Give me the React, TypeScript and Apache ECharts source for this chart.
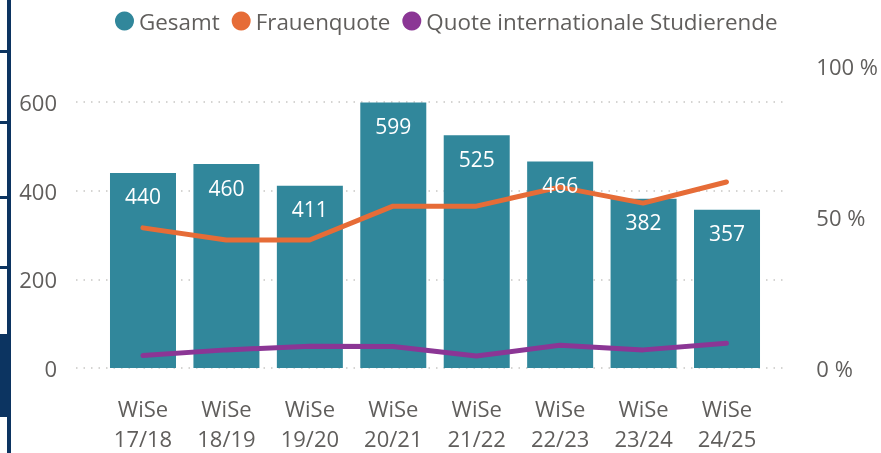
import React, { useEffect, useRef } from "react";
import * as echarts from "echarts";

const categories = ["WiSe 17/18", "WiSe 18/19", "WiSe 19/20", "WiSe 20/21", "WiSe 21/22", "WiSe 22/23", "WiSe 23/24", "WiSe 24/25"];
const gesamt = [440, 460, 411, 599, 525, 466, 382, 357];
const frauenquote = [46.4, 42.4, 42.4, 53.6, 53.6, 59.9, 54.6, 61.6];
const quoteInternational = [4.1, 6.0, 7.2, 7.1, 4.0, 7.5, 6.0, 8.2];
const leftTicks = [0, 200, 400, 600];
const rightTicks = [0, 50, 100];

const FONT = "'Open Sans', 'Noto Sans', sans-serif";
const GRAY = "#605E5C";
const TEAL = "#31879B";
const ORANGE = "#E66C37";
const PURPLE = "#8B3695";
const NAVY = "#0C3461";

export default function App() {
  const ref = useRef<HTMLDivElement>(null);
  useEffect(() => {
    if (!ref.current) return;
    const chart = echarts.init(ref.current, null, { renderer: "svg" });
    const idx = categories.map((_, i) => i);
    const xMin = -0.803;
    const xMax = 7.719;
    const labelStyle = {
      show: true,
      position: "insideTop",
      distance: 13,
      color: "#FFFFFF",
      fontFamily: FONT,
      fontSize: 21,
      formatter: (p: any) => String(p.value[1]),
    };
    chart.setOption({
      animation: false,
      textStyle: { fontFamily: FONT },
      legend: {
        left: 110,
        top: 5,
        icon: "circle",
        itemWidth: 19,
        itemHeight: 19,
        itemGap: 12,
        textStyle: { fontFamily: FONT, fontSize: 22.4, color: GRAY },
        data: ["Gesamt", "Frauenquote", "Quote internationale Studierende"],
      },
      grid: [
        { left: 76, right: 94, top: 102, bottom: 85 },
        { left: 76, right: 94, top: 66, bottom: 85 },
      ],
      xAxis: [
        {
          type: "value",
          gridIndex: 0,
          min: xMin,
          max: xMax,
          axisLine: { show: false },
          axisTick: { show: false },
          splitLine: { show: false },
          axisLabel: {
            customValues: idx,
            formatter: (v: number) => categories[Math.round(v)].replace(" ", "\n"),
            fontFamily: FONT,
            fontSize: 22,
            lineHeight: 30,
            color: GRAY,
            margin: 25,
          },
        },
        {
          type: "value",
          gridIndex: 1,
          min: xMin,
          max: xMax,
          show: false,
        },
      ],
      yAxis: [
        {
          type: "value",
          gridIndex: 0,
          min: leftTicks[0],
          max: leftTicks[leftTicks.length - 1],
          interval: 200,
          axisLine: { show: false },
          axisTick: { show: false },
          axisLabel: { fontFamily: FONT, fontSize: 22, color: GRAY, margin: 19 },
          splitLine: { show: true, lineStyle: { color: "#C8C6C4", width: 1.5, type: [1.5, 6] } },
        },
        {
          type: "value",
          gridIndex: 1,
          position: "right",
          min: rightTicks[0],
          max: rightTicks[rightTicks.length - 1],
          interval: 50,
          axisLine: { show: false },
          axisTick: { show: false },
          axisLabel: { fontFamily: FONT, fontSize: 22, color: GRAY, margin: 30, formatter: "{value} %" },
          splitLine: { show: false },
        },
      ],
      series: [
        {
          name: "Gesamt",
          type: "bar",
          xAxisIndex: 0,
          yAxisIndex: 0,
          barWidth: 66,
          barGap: "-100%",
          itemStyle: { color: TEAL },
          data: gesamt.map((v, i) => [i, v]),
          z: 2,
        },
        {
          name: "Frauenquote",
          type: "line",
          xAxisIndex: 1,
          yAxisIndex: 1,
          symbol: "none",
          lineStyle: { color: ORANGE, width: 5, cap: "round", join: "round" },
          itemStyle: { color: ORANGE },
          data: frauenquote.map((v, i) => [i, v]),
          z: 3,
        },
        {
          name: "Quote internationale Studierende",
          type: "line",
          xAxisIndex: 1,
          yAxisIndex: 1,
          symbol: "none",
          lineStyle: { color: PURPLE, width: 5, cap: "round", join: "round" },
          itemStyle: { color: PURPLE },
          data: quoteInternational.map((v, i) => [i, v]),
          z: 3,
        },
        {
          name: "GesamtLabels",
          type: "bar",
          xAxisIndex: 0,
          yAxisIndex: 0,
          barWidth: 66,
          barGap: "-100%",
          itemStyle: { color: "rgba(0,0,0,0)" },
          data: gesamt.map((v, i) => [i, v]),
          label: labelStyle,
          silent: true,
          z: 5,
        },
      ],
      graphic: [
        { type: "rect", shape: { x: 7, y: 0, width: 4, height: 453 }, style: { fill: NAVY } },
        { type: "rect", shape: { x: 0, y: 50, width: 8, height: 3 }, style: { fill: NAVY } },
        { type: "rect", shape: { x: 0, y: 121, width: 8, height: 3 }, style: { fill: NAVY } },
        { type: "rect", shape: { x: 0, y: 196, width: 8, height: 3 }, style: { fill: NAVY } },
        { type: "rect", shape: { x: 0, y: 266, width: 8, height: 3 }, style: { fill: NAVY } },
        { type: "rect", shape: { x: 0, y: 334, width: 11, height: 83 }, style: { fill: NAVY } },
      ],
    });
    return () => chart.dispose();
  }, []);
  return <div ref={ref} style={{ position: "fixed", left: 0, top: 0, width: 881, height: 453 }} />;
}
